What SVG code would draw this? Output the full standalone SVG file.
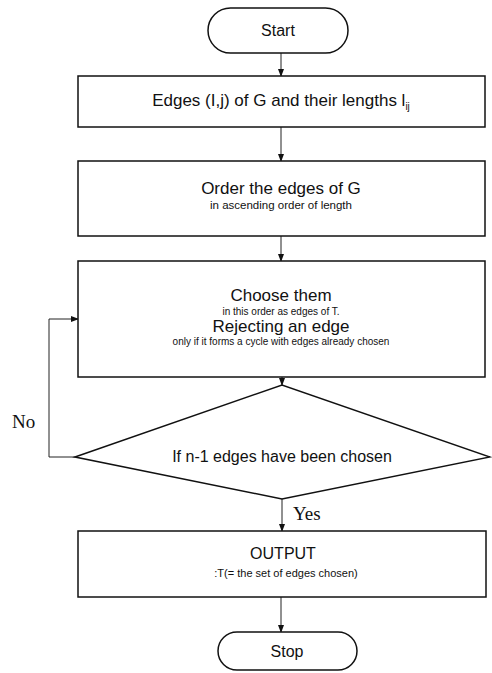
<svg xmlns="http://www.w3.org/2000/svg" width="492" height="673" viewBox="0 0 492 673">
<style>
.box{fill:#fff;stroke:#111;stroke-width:1.5}
.ln{fill:none;stroke:#222;stroke-width:1}
.t{font-family:"Liberation Sans",Arial,sans-serif;fill:#111;text-anchor:middle}
.m{font-size:17px}
.s{font-size:10px}
.sr{font-family:"Liberation Serif","Times New Roman",serif;font-size:19px;fill:#111}
</style>
<defs>
<marker id="ah" markerWidth="8" markerHeight="6" refX="7" refY="3" orient="auto" markerUnits="userSpaceOnUse">
<path d="M0,0 L8,3 L0,6 Z" fill="#111"/>
</marker>
</defs>
<rect width="492" height="673" fill="#fff"/>
<g id="connectors">
<line class="ln" x1="281" y1="53" x2="281" y2="76" marker-end="url(#ah)"/>
<line class="ln" x1="281" y1="127" x2="281" y2="161" marker-end="url(#ah)"/>
<line class="ln" x1="281" y1="236" x2="281" y2="261" marker-end="url(#ah)"/>
<line class="ln" x1="282" y1="377" x2="282" y2="385" marker-end="url(#ah)"/>
<line class="ln" x1="282" y1="499" x2="282" y2="531" marker-end="url(#ah)"/>
<line class="ln" x1="281" y1="597" x2="281" y2="632" marker-end="url(#ah)"/>
<polyline class="ln" points="75,457 49,457 49,319 78,319" marker-end="url(#ah)"/>
<text class="sr" x="12" y="428">No</text>
<text class="sr" x="293" y="520">Yes</text>
</g>
<g id="start">
<rect class="box" x="208" y="8" width="140" height="45" rx="22.5"/>
<text class="t" x="278" y="36" font-size="16">Start</text>
</g>
<g id="edges">
<rect class="box" x="78" y="76" width="407" height="51"/>
<text class="t m" x="281" y="106">Edges (I,j) of G and their lengths l<tspan font-size="10" dy="4">ij</tspan></text>
</g>
<g id="order">
<rect class="box" x="78" y="161" width="407" height="75"/>
<text class="t m" x="281" y="194">Order the edges of G</text>
<text class="t" x="281" y="209" font-size="11.5">in ascending order of length</text>
</g>
<g id="choose">
<rect class="box" x="78" y="261" width="407" height="116"/>
<text class="t" x="281" y="301" font-size="17">Choose them</text>
<text class="t s" x="281" y="315">in this order as edges of T.</text>
<text class="t" x="281" y="332" font-size="17">Rejecting an edge</text>
<text class="t s" x="281" y="345">only if it forms a cycle with edges already chosen</text>
</g>
<g id="decision">
<polygon class="box" points="75,457 282,385 490,457 282,499"/>
<text class="t" x="282" y="462" font-size="16">If n-1 edges have been chosen</text>
</g>
<g id="output">
<rect class="box" x="78" y="531" width="408" height="66"/>
<text class="t" x="283" y="559" font-size="16">OUTPUT</text>
<text class="t" x="286" y="577" font-size="11">:T(= the set of edges chosen)</text>
</g>
<g id="stop">
<rect class="box" x="218" y="632" width="139" height="38" rx="19"/>
<text class="t" x="287" y="657" font-size="16">Stop</text>
</g>
</svg>
